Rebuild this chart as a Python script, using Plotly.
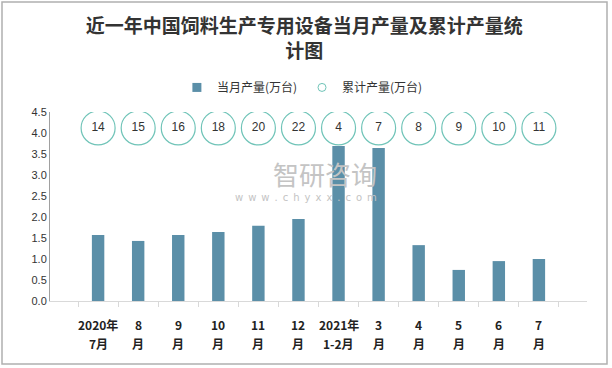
import plotly.graph_objects as go

cat_top = ["2020年", "8", "9", "10", "11", "12", "2021年", "3", "4", "5", "6", "7"]
cat_bottom = ["7月", "月", "月", "月", "月", "月", "1-2月", "月", "月", "月", "月", "月"]
categories = [f"{a} {b}" for a, b in zip(cat_top, cat_bottom)]
monthly = [1.57, 1.43, 1.57, 1.64, 1.79, 1.95, 3.69, 3.64, 1.33, 0.74, 0.95, 1.00]
cumulative = [14, 15, 16, 18, 20, 22, 4, 7, 8, 9, 10, 11]
y_ticks = [0, 0.5, 1.0, 1.5, 2.0, 2.5, 3.0, 3.5, 4.0, 4.5]

label_level = 4.12
bar_color = "#5b8fa8"
circle_color = "#70c4b8"
font_cjk = "Noto Sans CJK SC"

fig = go.Figure()
fig.add_trace(go.Bar(
    x=categories, y=monthly, name="当月产量(万台)", showlegend=False,
    marker=dict(color=bar_color, line=dict(width=0)),
))
fig.add_trace(go.Scatter(
    x=categories, y=[label_level] * len(cumulative), name="累计产量(万台)",
    showlegend=False,
    mode="markers+text", text=[str(v) for v in cumulative],
    textposition="middle center",
    textfont=dict(size=12, color="#333333", family="Liberation Sans"),
    marker=dict(size=34, color="white", line=dict(color=circle_color, width=1.2)),
))
# legend-only entries with small symbols
fig.add_trace(go.Scatter(
    x=[None], y=[None], mode="markers", name="当月产量(万台)",
    marker=dict(symbol="square", size=9, color=bar_color),
))
fig.add_trace(go.Scatter(
    x=[None], y=[None], mode="markers", name="累计产量(万台)",
    marker=dict(symbol="circle", size=8, color="white", line=dict(color=circle_color, width=1)),
))

www_text = "\u2002".join("www.chyxx.com")
annotations = [
    dict(text="智研咨询", xref="paper", yref="paper", x=0.512, y=0.677,
         xanchor="center", yanchor="middle",
         showarrow=False, font=dict(size=26, color="#c4c4c4", family=font_cjk)),
    dict(text=www_text, xref="paper", yref="paper", x=0.477, y=0.55,
         xanchor="center", yanchor="middle",
         showarrow=False, font=dict(size=10, color="#c4c4c4", family="DejaVu Sans")),
]
for c, a, b in zip(categories, cat_top, cat_bottom):
    annotations.append(dict(text=f"<b>{a}</b>", x=c, xref="x", yref="paper", y=0,
                            yanchor="middle", yshift=-23, showarrow=False,
                            font=dict(size=12, color="#222222", family=font_cjk)))
    annotations.append(dict(text=f"<b>{b}</b>", x=c, xref="x", yref="paper", y=0,
                            yanchor="middle", yshift=-42, showarrow=False,
                            font=dict(size=12, color="#222222", family=font_cjk)))

fig.update_layout(
    width=612, height=368,
    margin=dict(l=50, r=25, t=112, b=67, autoexpand=False),
    paper_bgcolor="white", plot_bgcolor="white",
    bargap=0.69,
    title=dict(
        text="<b>近一年中国饲料生产专用设备当月产量及累计产量统<br>计图</b>",
        x=0.497, xanchor="center", y=0.91, yanchor="middle",
        font=dict(size=19, color="#333333", family=font_cjk),
    ),
    legend=dict(
        orientation="h", x=0.47, xanchor="center", y=1.13, yanchor="middle",
        font=dict(size=12, color="#333333", family=font_cjk),
        itemwidth=30, traceorder="normal",
    ),
    showlegend=True,
    shapes=[dict(type="rect", xref="paper", yref="paper",
                 x0=-48/537, x1=1 + 20/537, y0=-63/189, y1=1 + 110/189,
                 line=dict(color="#b0b0b0", width=1.5))],
    annotations=annotations,
)
fig.update_xaxes(
    showline=True, linecolor="#d9d9d9", linewidth=1,
    ticks="outside", tickson="boundaries", tickcolor="#d9d9d9", ticklen=5,
    showticklabels=False, showgrid=False, automargin=False,
)
fig.update_yaxes(
    range=[0, 4.5], tickvals=y_ticks, tickformat=".1f",
    showline=True, linecolor="#a0a0a0", linewidth=1,
    showgrid=False, zeroline=False, automargin=False,
    tickfont=dict(size=11, color="#333333", family="Liberation Sans"),
)
fig.write_html("out.html", config={"displayModeBar": False},
               post_script="document.body.style.margin='0';")
